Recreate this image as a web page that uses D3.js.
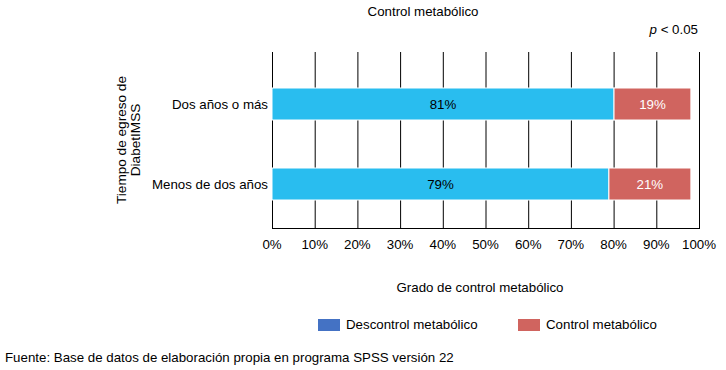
<!DOCTYPE html>
<head>
<meta charset="utf-8">
<title>Control metabólico</title>
<style>
  body { margin: 0; background: #fff; }
  text { font-family: "Liberation Sans", Arial, sans-serif; fill: #000; }
</style>
</head>
<body>
<script src="https://d3js.org/d3.v7.min.js"></script>
<script>

    // categories top to bottom
    const categories = ['Dos años o más', 'Menos de dos años'];
    // bar lengths as drawn (percent of axis)
    const descontrol = [80.1, 78.9];
    const control = [18.0, 19.2];
    // labels printed inside the bars
    const descontrolLabels = ['81%', '79%'];
    const controlLabels = ['19%', '21%'];
    const ticks = [0, 10, 20, 30, 40, 50, 60, 70, 80, 90, 100];
    const legendNames = ['Descontrol metabólico', 'Control metabólico'];

    const barBlue = '#29bdef';
    const red = '#d0645f';
    const legendBlue = '#4472c4';
    const fs = '13.3px';

    const width = 726, height = 370;
    const margin = {top: 52, left: 272, right: 27, bottom: 142};
    const plotW = width - margin.left - margin.right;
    const plotH = height - margin.top - margin.bottom;

    const svg = d3.select('body').append('svg')
        .attr('width', width)
        .attr('height', height);

    const x = d3.scaleLinear().domain([0, 100]).range([0, plotW]);
    const y = d3.scaleBand().domain(categories).range([0, plotH])
        .paddingInner(0.6).paddingOuter(0.4).align(0.5625);

    const g = svg.append('g')
        .attr('transform', 'translate(' + margin.left + ',' + margin.top + ')');

    // vertical gridlines
    g.selectAll('.grid')
        .data(ticks)
        .enter().append('line')
        .attr('x1', d => x(d) + 0.5)
        .attr('x2', d => x(d) + 0.5)
        .attr('y1', 0)
        .attr('y2', plotH)
        .attr('stroke', '#000')
        .attr('stroke-width', 1);

    // bottom line
    g.append('line')
        .attr('x1', 0).attr('x2', x(100) + 1)
        .attr('y1', plotH + 0.5).attr('y2', plotH + 0.5)
        .attr('stroke', '#000');

    const rows = categories.map((c, i) => ({
        cat: c,
        segs: [
            {x0: 0, x1: descontrol[i], color: barBlue, label: descontrolLabels[i], txt: '#000'},
            {x0: descontrol[i], x1: descontrol[i] + control[i], color: red, label: controlLabels[i], txt: '#fff'}
        ]
    }));

    const row = g.selectAll('.row')
        .data(rows)
        .enter().append('g')
        .attr('transform', d => 'translate(0,' + y(d.cat) + ')');

    row.selectAll('rect')
        .data(d => d.segs)
        .enter().append('rect')
        .attr('x', d => x(d.x0))
        .attr('width', d => x(d.x1) - x(d.x0))
        .attr('y', 0)
        .attr('height', y.bandwidth())
        .attr('fill', d => d.color)
        .attr('stroke', '#fff')
        .attr('stroke-width', 1);

    row.selectAll('.lbl')
        .data(d => d.segs)
        .enter().append('text')
        .attr('x', d => (x(d.x0) + x(d.x1)) / 2)
        .attr('y', y.bandwidth() / 2)
        .attr('dy', '.35em')
        .attr('text-anchor', 'middle')
        .style('font-size', fs)
        .style('fill', d => d.txt)
        .text(d => d.label);

    // category labels
    g.selectAll('.cat')
        .data(categories)
        .enter().append('text')
        .attr('x', -4)
        .attr('y', d => y(d) + y.bandwidth() / 2)
        .attr('dy', '.35em')
        .attr('text-anchor', 'end')
        .style('font-size', fs)
        .text(d => d);

    // tick labels
    g.selectAll('.tick')
        .data(ticks)
        .enter().append('text')
        .attr('x', d => x(d))
        .attr('y', plotH + 21)
        .attr('text-anchor', 'middle')
        .style('font-size', fs)
        .text(d => d + '%');

    // titles
    svg.append('text')
        .attr('x', 423).attr('y', 16)
        .attr('text-anchor', 'middle')
        .style('font-size', fs)
        .text('Control metabólico');

    const p = svg.append('text')
        .attr('x', 698).attr('y', 34)
        .attr('text-anchor', 'end')
        .style('font-size', fs);
    p.append('tspan').style('font-style', 'italic').text('p');
    p.append('tspan').text(' < 0.05');

    svg.append('text')
        .attr('x', 480).attr('y', 292)
        .attr('text-anchor', 'middle')
        .style('font-size', fs)
        .text('Grado de control metabólico');

    const yt = svg.append('text')
        .attr('transform', 'translate(126,140) rotate(-90)')
        .attr('text-anchor', 'middle')
        .style('font-size', '13.6px');
    yt.append('tspan').attr('x', 0).attr('dy', 0).text('Tiempo de egreso de');
    yt.append('tspan').attr('x', 0).attr('dy', '1.05em').text('DiabetIMSS');

    // legend
    const legX = [318, 518];
    const leg = svg.selectAll('.leg')
        .data(legendNames)
        .enter().append('g')
        .attr('transform', (d, i) => 'translate(' + legX[i] + ',318)');
    leg.append('rect')
        .attr('width', 22).attr('height', 12)
        .attr('y', 1)
        .attr('fill', (d, i) => i === 0 ? legendBlue : red);
    leg.append('text')
        .attr('x', 28).attr('y', 11)
        .style('font-size', fs)
        .text(d => d);

    svg.append('text')
        .attr('x', 5).attr('y', 362)
        .style('font-size', fs)
        .text('Fuente: Base de datos de elaboración propia en programa SPSS versión 22');

</script>
</body>
